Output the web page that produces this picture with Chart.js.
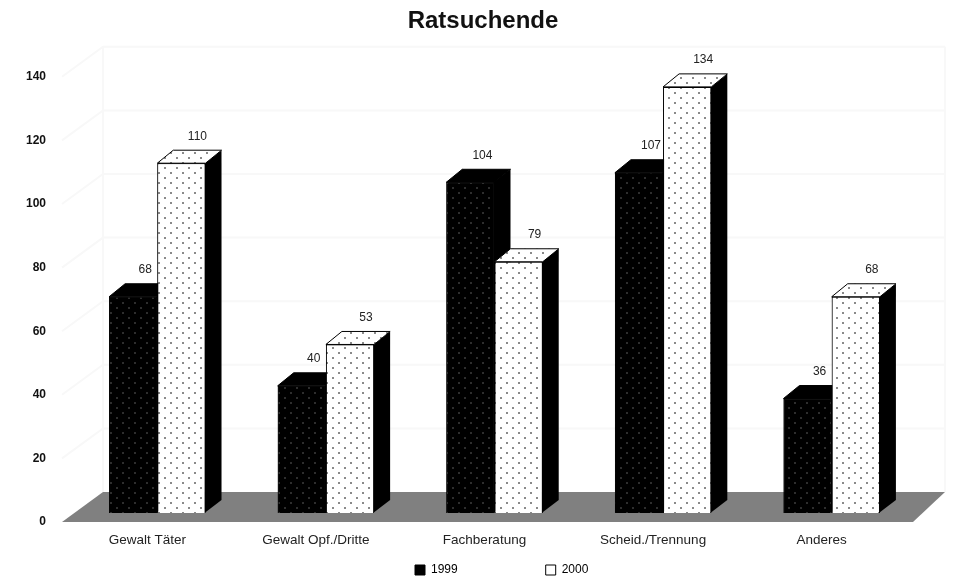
<!DOCTYPE html>
<html>
<head>
<meta charset="utf-8">
<title>Ratsuchende</title>
<script src="https://cdn.jsdelivr.net/npm/chart.js@4/dist/chart.umd.js"></script>
<style>
  html, body { margin: 0; padding: 0; background: #fff; }
  #wrap { width: 953px; height: 577px; }
</style>
</head>
<body>
<div id="wrap"><canvas id="chart" width="953" height="577"></canvas></div>
<script>
const categories = ['Gewalt Täter', 'Gewalt Opf./Dritte', 'Fachberatung', 'Scheid./Trennung', 'Anderes'];
const years = ['1999', '2000'];
const values1999 = [68, 40, 104, 107, 36];
const values2000 = [110, 53, 79, 134, 68];

const FONT = '"Liberation Sans", Arial, sans-serif';
const DEPTH_X = 16;
const DEPTH_Y = 13;

function dots(bg, dot) {
  const tile = document.createElement('canvas');
  tile.width = 12;
  tile.height = 10;
  const c = tile.getContext('2d');
  c.fillStyle = bg;
  c.fillRect(0, 0, 12, 10);
  c.fillStyle = dot;
  c.fillRect(2, 2, 2, 2);
  c.fillRect(8, 7, 2, 2);
  return c.createPattern(tile, 'repeat');
}

const blackFill = dots('#000', '#2e2e2e');
const whiteFill = dots('#fff', '#8a8a8a');

function poly(ctx, pts, fill, stroke) {
  ctx.beginPath();
  pts.forEach((p, i) => (i ? ctx.lineTo(p[0], p[1]) : ctx.moveTo(p[0], p[1])));
  ctx.closePath();
  ctx.fillStyle = fill;
  ctx.fill();
  if (stroke) {
    ctx.strokeStyle = stroke;
    ctx.lineWidth = 1;
    ctx.stroke();
  }
}

// floor and faint wall lines behind the columns
const roomPlugin = {
  id: 'room',
  beforeDatasetsDraw(chart) {
    const ctx = chart.ctx;
    const area = chart.chartArea;
    const y = chart.scales.y;
    const backL = area.left + 30;
    const backR = area.right + 29;
    const frontL = area.left - 11;

    ctx.save();
    ctx.strokeStyle = '#f8f8f8';
    ctx.lineWidth = 2;
    y.ticks.forEach(t => {
      if (t.value === 0) return;
      const py = y.getPixelForValue(t.value);
      ctx.beginPath();
      ctx.moveTo(frontL, py + 9);
      ctx.lineTo(backL, py - 21);
      ctx.lineTo(backR, py - 21);
      ctx.stroke();
    });
    ctx.beginPath();
    ctx.moveTo(backL, area.top - 21);
    ctx.lineTo(backL, area.bottom - 21);
    ctx.moveTo(backR, area.top - 21);
    ctx.lineTo(backR, area.bottom - 21);
    ctx.stroke();

    poly(ctx, [
      [frontL, area.bottom + 9],
      [area.right - 3, area.bottom + 9],
      [backR, area.bottom - 21],
      [backL, area.bottom - 21]
    ], '#808080');
    ctx.restore();
  },
  // side and top faces go under each front face, 1999 first so 2000 overlaps it
  afterDatasetsDraw(chart) {
    const ctx = chart.ctx;
    ctx.save();
    [0, 1].forEach(i => {
      const meta = chart.getDatasetMeta(i);
      meta.data.forEach(bar => {
        const x0 = bar.x - bar.width / 2;
        const x1 = bar.x + bar.width / 2;
        poly(ctx, [
          [x1 - 1, bar.y], [x1 + DEPTH_X, bar.y - DEPTH_Y],
          [x1 + DEPTH_X, bar.base - DEPTH_Y], [x1 - 1, bar.base]
        ], '#000');
        poly(ctx, [
          [x0, bar.y], [x0 + DEPTH_X, bar.y - DEPTH_Y],
          [x1 + DEPTH_X, bar.y - DEPTH_Y], [x1, bar.y]
        ], i ? whiteFill : '#000', '#000');
        bar.draw(ctx);
      });
    });
    ctx.fillStyle = '#222';
    ctx.font = '12px ' + FONT;
    ctx.textAlign = 'center';
    ctx.textBaseline = 'middle';
    [0, 1].forEach(i => {
      const meta = chart.getDatasetMeta(i);
      meta.data.forEach((bar, j) => {
        ctx.fillText(chart.data.datasets[i].data[j], bar.x + (i ? 16 : 12), bar.y - 27);
      });
    });
    ctx.restore();
  },
  beforeLayout(chart) {
    const legend = chart.legend;
    if (legend.fixedFit) return;
    const fit = legend.fit;
    legend.fit = function () {
      fit.call(this);
      this.height = 22;
    };
    legend.fixedFit = true;
  },
  afterLayout(chart) {
    chart.titleBlock.left += 50;
    chart.legend.left = 415 - chart.options.plugins.legend.labels.padding;
    chart.legend.top = 570 - 6 - chart.options.plugins.legend.labels.padding;
  }
};

new Chart(document.getElementById('chart'), {
  type: 'bar',
  data: {
    labels: categories,
    datasets: [
      { label: years[0], data: values1999, backgroundColor: blackFill, borderColor: '#000', borderWidth: 1 },
      { label: years[1], data: values2000, backgroundColor: whiteFill, borderColor: '#000', borderWidth: 1 }
    ]
  },
  options: {
    responsive: false,
    animation: false,
    layout: { padding: { left: 0, right: 37, top: 0, bottom: 0 } },
    datasets: { bar: { categoryPercentage: 0.572, barPercentage: 1 } },
    scales: {
      x: {
        grid: { display: false, drawTicks: false },
        border: { display: false },
        afterFit(scale) { scale.height = 42; },
        ticks: {
          color: '#222',
          font: { family: FONT, size: 13.5 },
          padding: 19,
          labelOffset: -10,
          maxRotation: 0,
          autoSkip: false
        }
      },
      y: {
        min: 0,
        max: 140,
        grid: { display: false, drawTicks: false },
        border: { display: false },
        afterFit(scale) { scale.width = 73; },
        ticks: {
          stepSize: 20,
          color: '#111',
          font: { family: FONT, size: 12, weight: 'bold' },
          padding: 27,
          labelOffset: 9
        }
      }
    },
    plugins: {
      title: {
        display: true,
        text: 'Ratsuchende',
        color: '#111',
        font: { family: FONT, size: 24, weight: 'bold', lineHeight: 1.2 },
        padding: { top: 7, bottom: 32 }
      },
      legend: {
        position: 'bottom',
        align: 'start',
        labels: {
          boxWidth: 10,
          boxHeight: 10,
          padding: 88,
          color: '#222',
          font: { family: FONT, size: 12 },
          generateLabels() {
            return years.map((y, i) => ({
              text: y,
              fillStyle: i ? '#fff' : '#000',
              strokeStyle: '#000',
              lineWidth: 1,
              datasetIndex: i
            }));
          }
        }
      },
      tooltip: { enabled: false }
    }
  },
  plugins: [roomPlugin]
});
</script>
</body>
</html>
